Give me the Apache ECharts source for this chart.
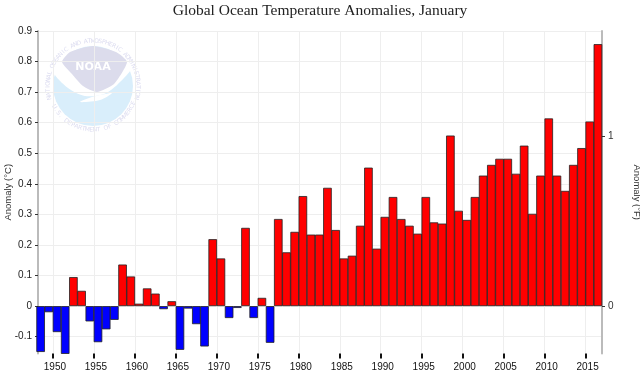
<!DOCTYPE html>
<html>
<head>
<meta charset="utf-8">
<style>
  html, body { margin: 0; padding: 0; background: #fff; }
  #chart { width: 640px; height: 384px; }
</style>
<script src="https://cdn.jsdelivr.net/npm/echarts@6/dist/echarts.min.js"></script>
</head>
<body>
<div id="chart"></div>
<script>
// January anomalies (deg C)
const years = [
  1948, 1949, 1950, 1951, 1952, 1953, 1954, 1955, 1956, 1957,
  1958, 1959, 1960, 1961, 1962, 1963, 1964, 1965, 1966, 1967,
  1968, 1969, 1970, 1971, 1972, 1973, 1974, 1975, 1976, 1977,
  1978, 1979, 1980, 1981, 1982, 1983, 1984, 1985, 1986, 1987,
  1988, 1989, 1990, 1991, 1992, 1993, 1994, 1995, 1996, 1997,
  1998, 1999, 2000, 2001, 2002, 2003, 2004, 2005, 2006, 2007,
  2008, 2009, 2010, 2011, 2012, 2013, 2014, 2015, 2016
]
const anomalies = [
  -0.15, -0.02, -0.085, -0.16, 0.095, 0.05, -0.05, -0.118, -0.076, -0.045,
  0.136, 0.097, 0.008, 0.058, 0.041, -0.01, 0.016, -0.143, -0.008, -0.059,
  -0.132, 0.219, 0.156, -0.039, -0.006, 0.256, -0.039, 0.027, -0.12, 0.285,
  0.176, 0.243, 0.36, 0.234, 0.234, 0.387, 0.249, 0.156, 0.165, 0.263,
  0.453, 0.188, 0.292, 0.357, 0.285, 0.263, 0.237, 0.357, 0.274, 0.27,
  0.558, 0.312, 0.282, 0.357, 0.427, 0.462, 0.482, 0.482, 0.433, 0.525,
  0.302, 0.427, 0.614, 0.427, 0.377, 0.462, 0.517, 0.604, 0.857
]
const xTicks = [1950, 1955, 1960, 1965, 1970, 1975, 1980, 1985, 1990, 1995, 2000, 2005, 2010, 2015]
const yTicks = [-0.1, 0, 0.1, 0.2, 0.3, 0.4, 0.5, 0.6, 0.7, 0.8, 0.9]
const fTicks = [0, 1]
const titleText = 'Global Ocean Temperature Anomalies, January'

const tickFont = 'Liberation Sans'
const sealTop = 'NATIONAL OCEANIC AND ATMOSPHERIC ADMINISTRATION'
const sealBottom = 'U.S. DEPARTMENT OF COMMERCE'

// letters of the seal, one rotated text per char
function sealLetters(text, from, to, r, flip) {
  const cx = 93, cy = 86
  return text.split('').map((ch, i) => {
    const a = (from + (to - from) * i / (text.length - 1)) * Math.PI / 180
    return {
      type: 'text',
      x: cx + r * Math.cos(a),
      y: cy + r * Math.sin(a),
      rotation: flip ? Math.PI / 2 - a : -a - Math.PI / 2,
      z: -10,
      style: { text: ch, fill: '#dcdcf0', font: '6px "DejaVu Sans"', align: 'center', verticalAlign: 'middle' }
    }
  })
}

const chart = echarts.init(document.getElementById('chart'))
chart.setOption({
  animation: false,
  backgroundColor: '#fff',
  title: {
    text: titleText,
    left: 'center',
    top: -2,
    textStyle: { fontFamily: 'Liberation Serif', fontWeight: 'normal', fontSize: 15.5, color: '#222' }
  },
  grid: { left: 38, right: 38, top: 31, bottom: 30.5, outerBoundsMode: 'none' },
  xAxis: {
    type: 'value',
    min: 1948.18,
    max: 2017,
    axisLine: { show: false, onZero: false },
    axisTick: { customValues: xTicks, length: 5, lineStyle: { color: '#111', width: 2 } },
    axisLabel: {
      customValues: xTicks,
      formatter: v => String(v),
      margin: 9,
      padding: [0, 0, 0, 4],
      color: '#111',
      fontFamily: tickFont,
      fontSize: 10
    },
    splitLine: { show: true, lineStyle: { color: '#eee', width: 1 } }
  },
  yAxis: [
    {
      type: 'value',
      min: -0.155,
      max: 0.9,
      name: 'Anomaly (°C)',
      nameLocation: 'middle',
      nameGap: 25,
      nameMoveOverlap: false,
      nameTextStyle: { fontFamily: tickFont, fontSize: 9.5, color: '#333' },
      axisLine: { show: true, onZero: false, lineStyle: { color: '#bbb', width: 2 } },
      axisTick: { customValues: yTicks, length: 3, lineStyle: { color: '#333' } },
      axisLabel: {
        customValues: yTicks,
        formatter: v => String(v),
        margin: 6,
        color: '#222',
        fontFamily: tickFont,
        fontSize: 10
      },
      splitLine: { show: true, lineStyle: { color: '#eee', width: 1 } }
    },
    {
      type: 'value',
      position: 'right',
      min: -0.279,
      max: 1.62,
      name: 'Anomaly (°F)',
      nameLocation: 'middle',
      nameRotate: -90,
      nameGap: 30,
      nameMoveOverlap: false,
      nameTextStyle: { fontFamily: tickFont, fontSize: 9.5, color: '#333' },
      axisLine: { show: true, onZero: false, lineStyle: { color: '#bbb', width: 2 } },
      axisTick: { customValues: fTicks, length: 3, lineStyle: { color: '#333' } },
      axisLabel: {
        customValues: fTicks,
        formatter: v => String(v),
        margin: 6,
        color: '#333',
        fontFamily: tickFont,
        fontSize: 10
      },
      splitLine: { show: false }
    }
  ],
  graphic: {
    elements: [
      // NOAA seal watermark
      { type: 'circle', z: -10, shape: { cx: 93, cy: 86, r: 40 }, style: { fill: '#d9eefb' } },
      {
        type: 'polygon', z: -10,
        shape: {
          smooth: 0.3,
          points: [[53, 72], [54, 62], [62, 57], [98, 60], [127, 58], [133, 66], [118, 84], [104, 94], [85, 96], [68, 88]]
        },
        style: { fill: '#fff' }
      },
      {
        type: 'polygon', z: -10,
        shape: {
          smooth: 0.2,
          points: [[62, 62], [70, 52], [93, 46], [116, 52], [127, 62], [114, 84], [97, 92], [83, 86], [72, 74]]
        },
        style: { fill: '#dcdcec' }
      },
      {
        type: 'polygon', z: -10,
        shape: { smooth: 0.3, points: [[80, 102], [92, 97], [112, 93], [100, 100]] },
        style: { fill: '#fff' }
      },
      {
        type: 'text', z: -10, x: 93, y: 67,
        style: { text: 'NOAA', fill: '#fff', font: 'bold 11px "DejaVu Sans"', align: 'center', verticalAlign: 'middle' }
      },
      ...sealLetters(sealTop, -195, 15, 45, false),
      ...sealLetters(sealBottom, 152, 23, 44, true)
    ]
  },
  series: [
    {
      type: 'bar',
      barWidth: 8.6,
      clip: true,
      // bars run from their year's tick to the next one
      data: years.map((y, i) => ({
        value: [y + 0.5, anomalies[i]],
        itemStyle: { color: anomalies[i] >= 0 ? '#ff0000' : '#0000ff' }
      })),
      itemStyle: { borderColor: '#222', borderWidth: 0.8 }
    }
  ]
})
</script>
</body>
</html>
